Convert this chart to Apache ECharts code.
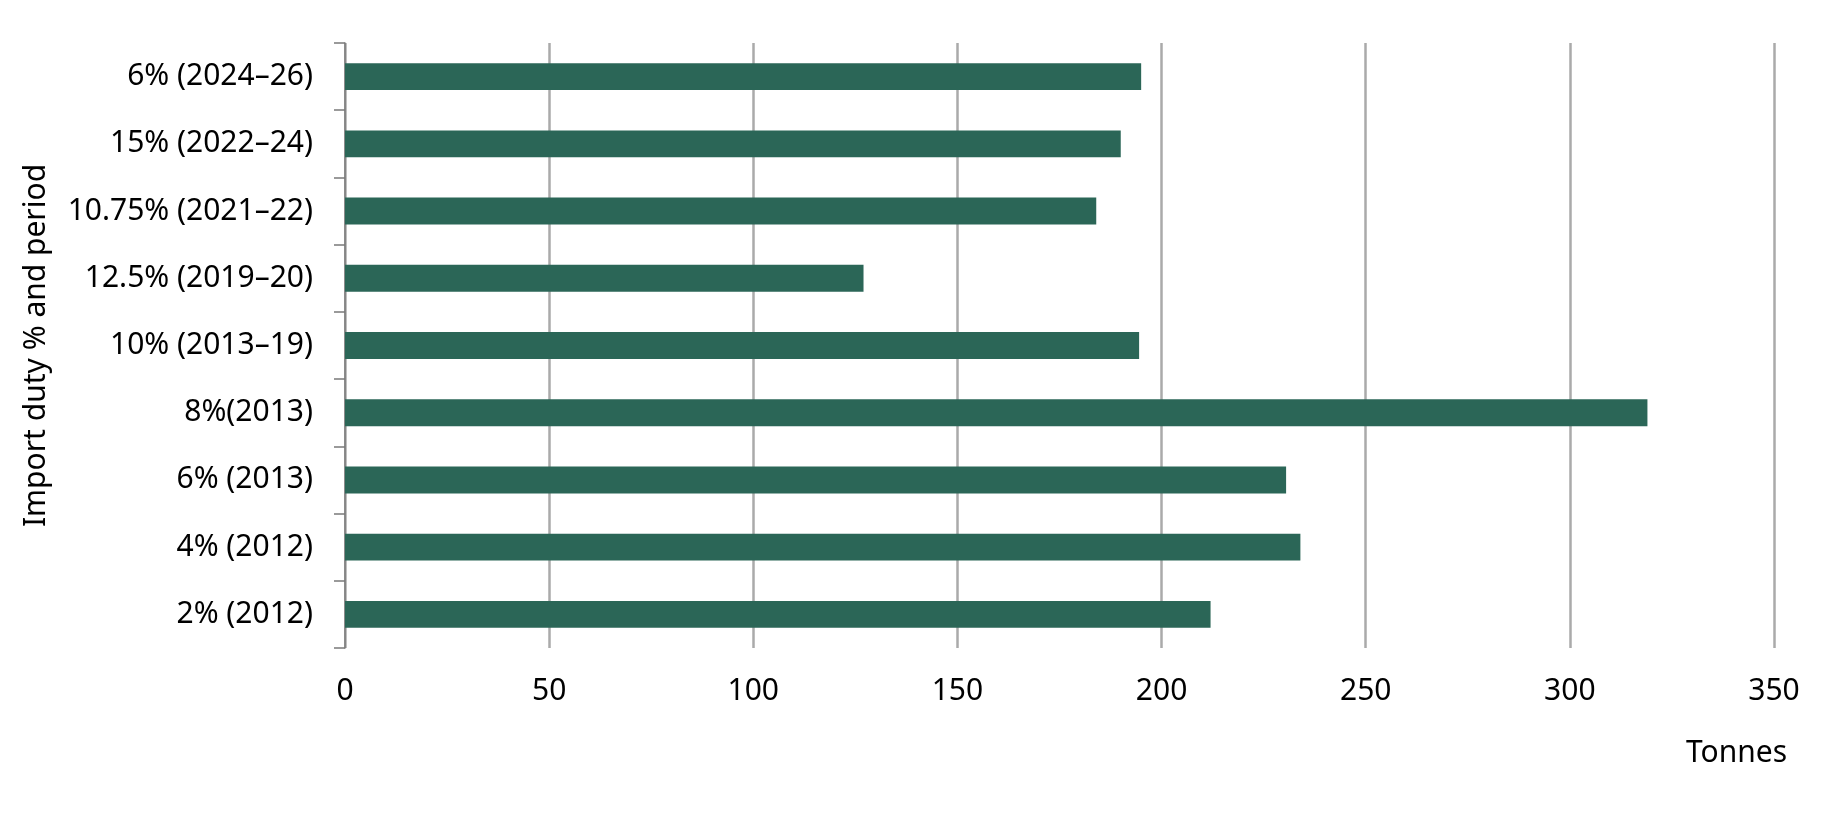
<!DOCTYPE html>
<html>
<head>
<meta charset="utf-8">
<script src="https://cdn.jsdelivr.net/npm/echarts@6/dist/echarts.min.js"></script>
<style>
html,body{margin:0;padding:0;background:#fff;}
#chart{width:1830px;height:816px;}
</style>
</head>
<body>
<div id="chart"></div>
<script>
const categories = ["6% (2024–26)", "15% (2022–24)", "10.75% (2021–22)", "12.5% (2019–20)", "10% (2013–19)", "8%(2013)", "6% (2013)", "4% (2012)", "2% (2012)"];
const tonnes = [195, 190, 184, 127, 194.5, 319, 230.5, 234, 212];
const xTicks = { min: 0, max: 350, interval: 50 };

const chart = echarts.init(document.getElementById('chart'));
const font = '"Noto Sans", "Open Sans", sans-serif';
chart.setOption({
  animation: false,
  backgroundColor: '#ffffff',
  grid: { left: 345, right: 56, top: 43, bottom: 168, containLabel: false },
  xAxis: {
    type: 'value',
    min: xTicks.min, max: xTicks.max, interval: xTicks.interval,
    name: 'Tonnes',
    nameLocation: 'end',
    nameGap: 13,
    nameTextStyle: { fontFamily: font, fontSize: 30, color: '#000', align: 'right', verticalAlign: 'top', padding: [90, 0, 0, 0] },
    axisLine: { show: false },
    axisTick: { show: false },
    axisLabel: { fontFamily: font, fontSize: 30, color: '#000', margin: 28 },
    splitLine: { show: true, lineStyle: { color: '#aaaaaa', width: 2.5 } }
  },
  yAxis: {
    type: 'category',
    data: categories,
    inverse: true,
    name: 'Import duty % and period',
    nameLocation: 'middle',
    nameGap: 294,
    nameTextStyle: { fontFamily: font, fontSize: 30, color: '#000' },
    axisLine: { show: true, lineStyle: { color: '#7a7a7a', width: 1.5 } },
    axisTick: { show: true, length: 11, lineStyle: { color: '#7a7a7a', width: 1.5 } },
    axisLabel: { fontFamily: font, fontSize: 30, color: '#000', margin: 32 },
    splitLine: { show: false }
  },
  series: [{
    type: 'bar',
    data: tonnes,
    barWidth: '40%',
    itemStyle: { color: '#2b6657' }
  }]
});
</script>
</body>
</html>
